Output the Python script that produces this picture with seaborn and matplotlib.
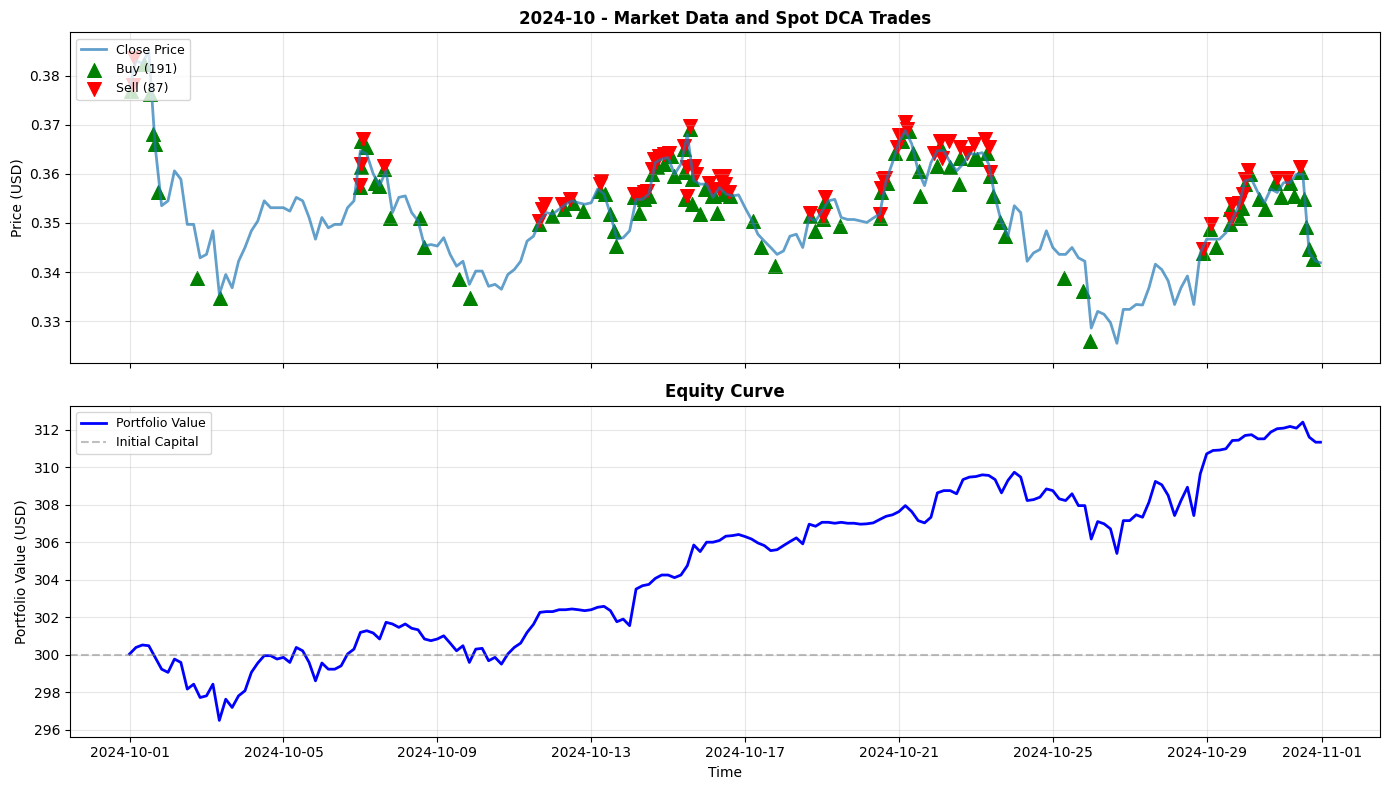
"""
Monthly backtest chart: close price with spot DCA trades, and the equity curve.
"""

import numpy as np
import pandas as pd
import matplotlib
matplotlib.use("Agg")
import matplotlib.pyplot as plt
import matplotlib.dates as mdates
import seaborn as sns

MONTH = "2024-10"
START = pd.Timestamp("2024-10-01 00:00")

# sample times, hours from start (4h grid, last bar at 23:00)
hours = list(range(0, 741, 4)) + [743]

close_price = [
    0.3775, 0.3830, 0.3825, 0.3850, 0.3655, 0.3535, 0.3545, 0.3606, 0.3589, 0.3497,
    0.3497, 0.3429, 0.3436, 0.3484, 0.3355, 0.3395, 0.3368, 0.3422, 0.3450, 0.3484,
    0.3504, 0.3545, 0.3531, 0.3531, 0.3531, 0.3524, 0.3552, 0.3545, 0.3511, 0.3467,
    0.3511, 0.3490, 0.3497, 0.3497, 0.3531, 0.3545, 0.3647, 0.3640, 0.3600, 0.3576,
    0.3606, 0.3521, 0.3552,
    0.3555, 0.3521, 0.3504, 0.3453, 0.3456, 0.3453, 0.3470, 0.3436, 0.3412, 0.3422,
    0.3375, 0.3402, 0.3402, 0.3371, 0.3375, 0.3365, 0.3395, 0.3405, 0.3422, 0.3463,
    0.3473, 0.3504, 0.3521, 0.3518, 0.3528, 0.3538, 0.3545, 0.3541, 0.3538, 0.3541,
    0.3569, 0.3559, 0.3518, 0.3467, 0.3470, 0.3484, 0.3548, 0.3548, 0.3559, 0.3623,
    0.3630, 0.3633, 0.3599, 0.3620, 0.3680, 0.3586, 0.3579, 0.3579, 0.3552, 0.3572,
    0.3559, 0.3555, 0.3557, 0.3531, 0.3507, 0.3477, 0.3463, 0.3450, 0.3436, 0.3443,
    0.3473, 0.3477, 0.3450, 0.3511, 0.3504, 0.3524, 0.3545, 0.3548, 0.3511, 0.3507,
    0.3507, 0.3504, 0.3501, 0.3510, 0.3518, 0.3586, 0.3623, 0.3664, 0.3688, 0.3661,
    0.3606, 0.3576, 0.3623, 0.3647, 0.3647, 0.3623, 0.3606, 0.3620, 0.3641, 0.3640,
    0.3643, 0.3620, 0.3552, 0.3501, 0.3473, 0.3535, 0.3521, 0.3422, 0.3439, 0.3446,
    0.3484, 0.3450, 0.3436, 0.3436, 0.3450, 0.3429, 0.3422, 0.3286, 0.3320, 0.3314,
    0.3297, 0.3255, 0.3324, 0.3324, 0.3334, 0.3333, 0.3368, 0.3416, 0.3405, 0.3382,
    0.3334, 0.3368, 0.3392, 0.3334, 0.3439, 0.3467, 0.3467, 0.3467, 0.3480, 0.3507,
    0.3535, 0.3586, 0.3589, 0.3562, 0.3541, 0.3569, 0.3562, 0.3582, 0.3582, 0.3599,
    0.3599, 0.3439, 0.3422, 0.3419,
]

portfolio_value = [
    300.04, 300.39, 300.52, 300.48, 299.86, 299.23, 299.06, 299.77, 299.59, 298.17,
    298.43, 297.72, 297.81, 298.43, 296.50, 297.63, 297.19, 297.81, 298.08, 299.06,
    299.56, 299.95, 299.95, 299.77, 299.86, 299.59, 300.39, 300.21, 299.59, 298.61,
    299.56, 299.23, 299.23, 299.41, 300.04, 300.30, 301.19, 301.28, 301.16, 300.84,
    301.73, 301.64, 301.46,
    301.64, 301.41, 301.33, 300.84, 300.75, 300.84, 301.01, 300.62, 300.21, 300.48,
    299.59, 300.30, 300.34, 299.68, 299.86, 299.50, 300.04, 300.39, 300.62, 301.19,
    301.62, 302.26, 302.30, 302.30, 302.40, 302.40, 302.44, 302.40, 302.35, 302.40,
    302.53, 302.58, 302.35, 301.76, 301.90, 301.55, 303.50, 303.68, 303.75, 304.07,
    304.25, 304.25, 304.11, 304.25, 304.75, 305.85, 305.50, 306.00, 306.00, 306.09,
    306.32, 306.35, 306.41, 306.30, 306.17, 305.96, 305.82, 305.55, 305.60, 305.82,
    306.03, 306.23, 305.91, 306.96, 306.85, 307.06, 307.06, 307.01, 307.06, 307.01,
    307.01, 306.96, 306.98, 307.03, 307.21, 307.38, 307.46, 307.63, 307.95, 307.63,
    307.15, 307.03, 307.33, 308.63, 308.75, 308.75, 308.58, 309.34, 309.47, 309.50,
    309.59, 309.56, 309.34, 308.63, 309.29, 309.73, 309.47, 308.22, 308.27, 308.40,
    308.84, 308.75, 308.31, 308.22, 308.58, 307.95, 307.95, 306.17, 307.10, 306.98,
    306.71, 305.40, 307.15, 307.15, 307.46, 307.33, 308.13, 309.24, 309.06, 308.49,
    307.42, 308.22, 308.93, 307.42, 309.64, 310.71, 310.89, 310.91, 310.98, 311.42,
    311.44, 311.69, 311.73, 311.51, 311.51, 311.87, 312.05, 312.08, 312.17, 312.08,
    312.40, 311.60, 311.33, 311.33,
]

INITIAL_CAPITAL = 300
BUY_COUNT = 191
SELL_COUNT = 87

# visible trade markers: hours from start, fill price
buy_hours = [
    0.6, 8.7, 13.0, 14.8, 15.6, 17.7, 42.2, 56.3, 143.6, 144.1, 144.1, 147.2, 153.4,
    155.5, 158.6, 162.4, 181.5, 183.6, 205.4, 212.3, 255.3, 263.6, 270.9, 276.7,
    282.8, 293.3, 296.9, 299.6, 302.5, 303.5, 314.5, 317.7, 320.8, 324.0, 326.0,
    329.1, 333.3, 337.5, 339.5, 345.8, 346.2, 346.8, 349.5, 351.0, 351.0, 356.1,
    359.3, 363.4, 364.4, 366.6, 370.7, 374.8, 389.0, 394.2, 402.5, 424.3, 427.4,
    432.6, 434.1, 443.4, 468.4, 468.8, 472.5, 477.8, 482.0, 486.1, 488.6, 492.3,
    493.4, 503.8, 505.9, 512.1, 517.3, 518.3, 526.6, 528.6, 534.9, 537.0, 538.7,
    543.2, 546.4, 583.2, 594.6, 599.4, 669.6, 674.2, 677.7, 686.7, 686.7, 693.0,
    694.0, 696.1, 699.2, 704.4, 708.6, 714.8, 718.3, 724.1, 726.2, 730.8, 732.8,
    734.1, 735.6, 738.3,
]
buy_prices = [
    0.3769, 0.3824, 0.3763, 0.3681, 0.3661, 0.3562, 0.3388, 0.3348, 0.3573, 0.3667,
    0.3614, 0.3654, 0.3582, 0.3576, 0.3610, 0.3511, 0.3511, 0.3450, 0.3385, 0.3348,
    0.3497, 0.3514, 0.3528, 0.3541, 0.3524, 0.3565, 0.3559, 0.3518, 0.3484, 0.3453,
    0.3552, 0.3521, 0.3548, 0.3555, 0.3599, 0.3613, 0.3620, 0.3637, 0.3596, 0.3603,
    0.3650, 0.3548, 0.3691, 0.3589, 0.3538, 0.3518, 0.3569, 0.3555, 0.3555, 0.3521,
    0.3559, 0.3555, 0.3504, 0.3450, 0.3412, 0.3514, 0.3484, 0.3507, 0.3545, 0.3494,
    0.3511, 0.3562, 0.3582, 0.3643, 0.3667, 0.3688, 0.3643, 0.3606, 0.3555, 0.3616,
    0.3657, 0.3613, 0.3579, 0.3633, 0.3630, 0.3630, 0.3643, 0.3596, 0.3555, 0.3501,
    0.3473, 0.3388, 0.3361, 0.3259, 0.3439, 0.3487, 0.3450, 0.3497, 0.3528, 0.3511,
    0.3531, 0.3579, 0.3599, 0.3548, 0.3528, 0.3582, 0.3552, 0.3582, 0.3555, 0.3603,
    0.3548, 0.3491, 0.3446, 0.3426,
]

sell_hours = [
    1.9, 2.5, 143.6, 144.1, 145.5, 158.6, 255.3, 257.4, 259.5, 269.9, 275.0, 293.3,
    294.4, 314.5, 317.7, 320.8, 322.9, 326.0, 327.1, 330.2, 333.3, 336.4, 346.2,
    347.8, 347.8, 349.5, 352.0, 353.7, 361.3, 363.4, 367.6, 367.6, 370.7, 371.7,
    373.8, 424.3, 432.6, 434.1, 468.4, 468.8, 470.1, 471.5, 478.8, 480.2, 484.0,
    485.0, 501.7, 505.9, 506.9, 511.0, 518.3, 522.5, 526.6, 533.9, 536.0, 536.6,
    670.0, 674.6, 687.3, 687.7, 691.9, 694.4, 695.7, 697.7, 715.8, 722.0, 730.4,
]
sell_prices = [
    0.3780, 0.3835, 0.3578, 0.3620, 0.3671, 0.3616, 0.3504, 0.3528, 0.3538, 0.3538,
    0.3548, 0.3579, 0.3586, 0.3559, 0.3559, 0.3562, 0.3565, 0.3610, 0.3630, 0.3637,
    0.3640, 0.3643, 0.3657, 0.3613, 0.3555, 0.3698, 0.3616, 0.3599, 0.3582, 0.3569,
    0.3596, 0.3569, 0.3596, 0.3579, 0.3562, 0.3521, 0.3514, 0.3552, 0.3518, 0.3572,
    0.3589, 0.3592, 0.3654, 0.3678, 0.3705, 0.3691, 0.3643, 0.3667, 0.3633, 0.3667,
    0.3654, 0.3643, 0.3661, 0.3671, 0.3654, 0.3603, 0.3446, 0.3497, 0.3507, 0.3538,
    0.3541, 0.3559, 0.3589, 0.3607, 0.3592, 0.3592, 0.3613,
]


def to_time(h):
    return START + pd.to_timedelta(np.asarray(h, dtype=float), unit="h")


market = pd.DataFrame({"time": to_time(hours), "close": close_price,
                       "value": portfolio_value})
buys = pd.DataFrame({"time": to_time(buy_hours), "price": buy_prices})
sells = pd.DataFrame({"time": to_time(sell_hours), "price": sell_prices})

fig, (ax1, ax2) = plt.subplots(2, 1, figsize=(14, 8), sharex=True)

# Price + trades
sns.lineplot(data=market, x="time", y="close", ax=ax1, color="#1f77b4",
             alpha=0.7, linewidth=2, label="Close Price")
sns.scatterplot(data=buys, x="time", y="price", ax=ax1, color="green",
                marker="^", s=100, edgecolor="face", label=f"Buy ({BUY_COUNT})")
sns.scatterplot(data=sells, x="time", y="price", ax=ax1, color="red",
                marker="v", s=100, edgecolor="face", label=f"Sell ({SELL_COUNT})")
ax1.set_title(f"{MONTH} - Market Data and Spot DCA Trades",
              fontsize=12, fontweight="bold")
ax1.set_ylabel("Price (USD)")
ax1.set_xlabel("")
ax1.set_ylim(0.3214, 0.3888)
ax1.legend(loc="upper left", fontsize=9)
ax1.grid(True, alpha=0.3)

# Equity curve
sns.lineplot(data=market, x="time", y="value", ax=ax2, color="blue",
             linewidth=2, label="Portfolio Value")
ax2.axhline(INITIAL_CAPITAL, color="gray", linestyle="--", alpha=0.5,
            label="Initial Capital")
ax2.set_title("Equity Curve", fontsize=12, fontweight="bold")
ax2.set_ylabel("Portfolio Value (USD)")
ax2.set_xlabel("Time")
ax2.set_ylim(295.63, 313.28)
ax2.legend(loc="upper left", fontsize=9)
ax2.grid(True, alpha=0.3)

ax2.xaxis.set_major_formatter(mdates.DateFormatter("%Y-%m-%d"))

plt.tight_layout()
plt.savefig("out.png", dpi=100, bbox_inches="tight")
